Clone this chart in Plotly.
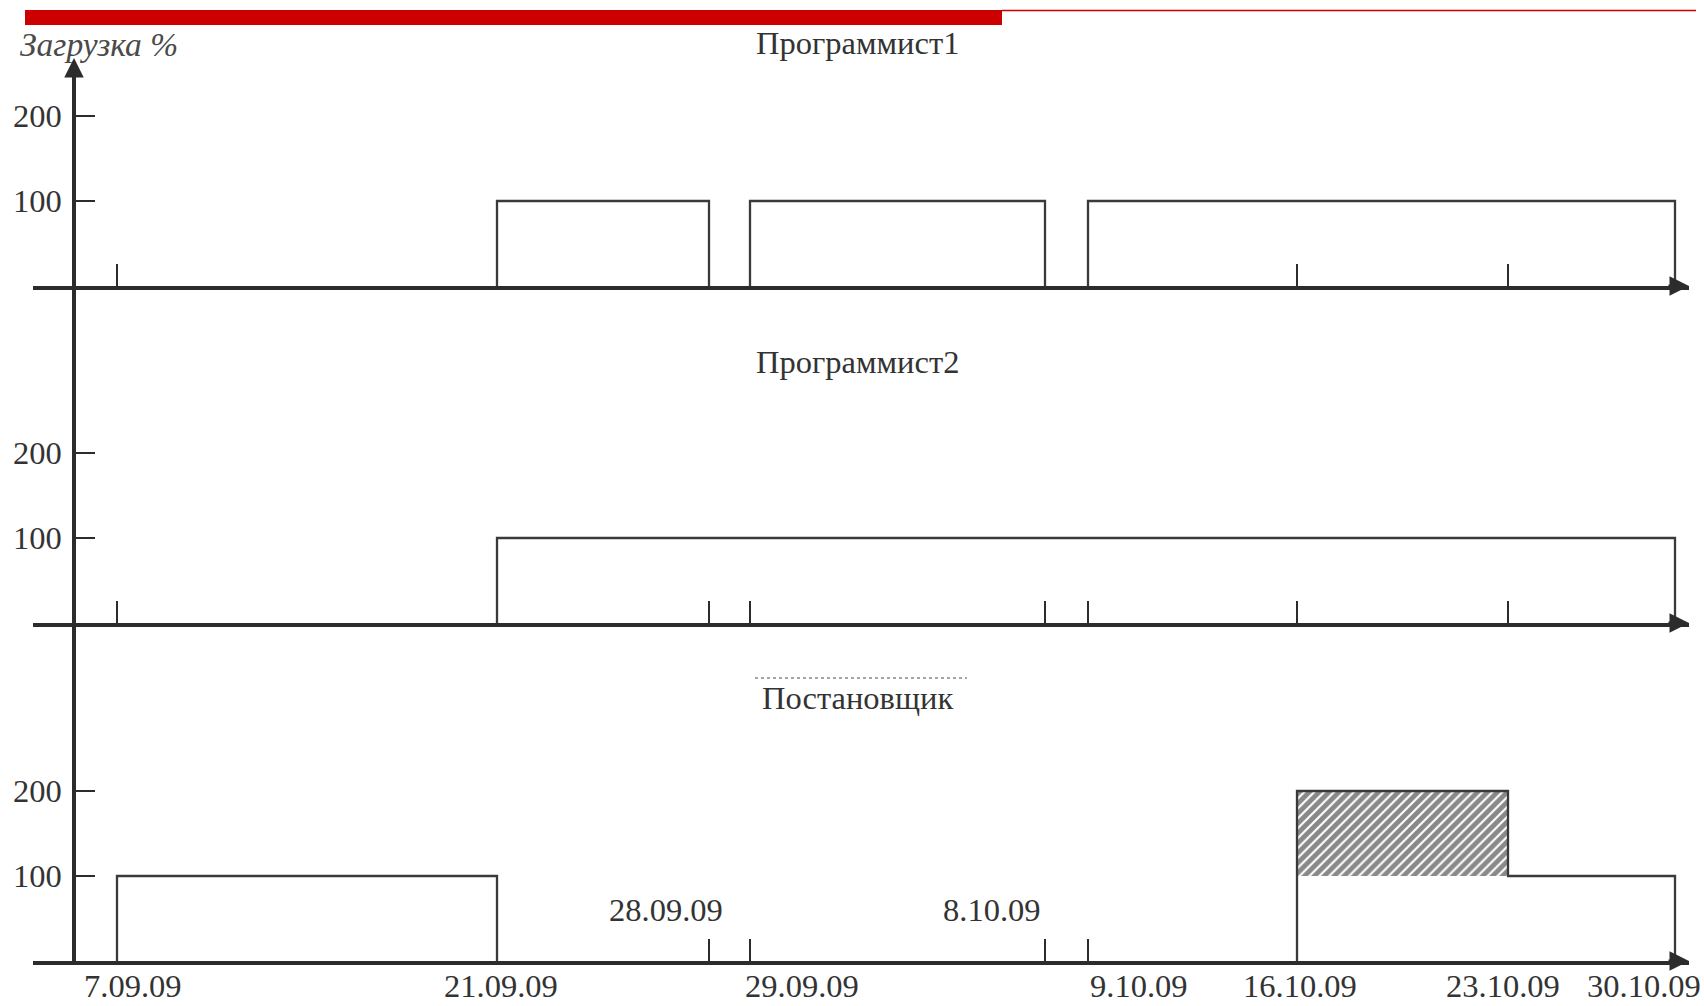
import plotly.graph_objects as go

W, H = 1704, 1006

# ---------------- data ----------------
dates = ["7.09.09", "21.09.09", "28.09.09", "29.09.09", "8.10.09",
         "9.10.09", "16.10.09", "23.10.09", "30.10.09"]
# schematic position of each date on the time line (the drawing is not to scale)
date_pos = [117, 497, 709, 750, 1045, 1088, 1297, 1508, 1675]

panel_titles = ["Программист1", "Программист2", "Постановщик"]

# load intervals per worker: (start, end, load %)
load_prog1 = [("21.09.09", "28.09.09", 100), ("29.09.09", "8.10.09", 100),
              ("9.10.09", "30.10.09", 100)]
load_prog2 = [("21.09.09", "30.10.09", 100)]
load_analyst = [("7.09.09", "21.09.09", 100), ("16.10.09", "23.10.09", 200),
                ("23.10.09", "30.10.09", 100)]
capacity = 100

# stand-alone tick marks per panel
ticks_prog1 = ["7.09.09", "16.10.09", "23.10.09"]
ticks_prog2 = ["7.09.09", "28.09.09", "29.09.09", "8.10.09", "9.10.09",
               "16.10.09", "23.10.09"]
ticks_analyst = ["28.09.09", "29.09.09", "8.10.09", "9.10.09"]

y_ticks = [100, 200]
y_title = "Загрузка %"

bottom_labels = ["7.09.09", "21.09.09", "29.09.09", "9.10.09", "16.10.09",
                 "23.10.09", "30.10.09"]
inner_labels = ["28.09.09", "8.10.09"]

# ---------------- styles / layout ----------------
bottom_shift = [16, 4, 52, 51, 3, -5, -31]
inner_shift = [-43, -53]
FONT = "Liberation Serif"
TXT = "#333333"
AX = "#2c2c2c"
LINE = "#3a3a3a"
FS = 32.5

pos = dict(zip(dates, date_pos))


def px(x):
    return x / W


def py(y):
    return 1 - y / H


def outline(segs):
    xs, ys = [], []
    prev_end = None
    for s, e, lvl in segs:
        x0, x1 = pos[s], pos[e]
        if prev_end is not None and prev_end == x0:
            xs += [x0, x1]
            ys += [lvl, lvl]
        else:
            if xs:
                xs += [prev_end, None]
                ys += [0, None]
            xs += [x0, x0, x1]
            ys += [0, lvl, lvl]
        prev_end = x1
    xs.append(prev_end)
    ys.append(0)
    return xs, ys


def overload(segs):
    xs, ys = [], []
    for s, e, lvl in segs:
        if lvl > capacity:
            x0, x1 = pos[s], pos[e]
            if xs:
                xs.append(None)
                ys.append(None)
            xs += [x0, x1, x1, x0, x0]
            ys += [capacity, capacity, lvl, lvl, capacity]
    return xs, ys


fig = go.Figure()

loads = [load_prog1, load_prog2, load_analyst]
tick_sets = [ticks_prog1, ticks_prog2, ticks_analyst]
# pixel geometry of panels: (baseline, top)
panels_px = [(286, 62), (623, 286), (961, 623)]
px_per_unit = 0.85
title_y = [43, 362, 698]

x_left, x_right = 33, 1689
yaxis_x = 74

for i, segs in enumerate(loads):
    xa = "x" if i == 0 else f"x{i+1}"
    ya = "y" if i == 0 else f"y{i+1}"
    hx, hy = overload(segs)
    if hx:
        fig.add_trace(go.Scatter(
            x=hx, y=hy, xaxis=xa, yaxis=ya, mode="lines", fill="toself",
            fillcolor="white",
            fillpattern=dict(shape="/", fgcolor="#141414", bgcolor="white",
                             size=7, solidity=0.7),
            line=dict(width=0), hoverinfo="skip", showlegend=False))
    ox, oy = outline(segs)
    fig.add_trace(go.Scatter(
        x=ox, y=oy, xaxis=xa, yaxis=ya, mode="lines",
        line=dict(color=LINE, width=2.3), showlegend=False, hoverinfo="skip",
        cliponaxis=False))

layout = dict(
    width=W, height=H, margin=dict(l=0, r=0, t=0, b=0),
    paper_bgcolor="white", plot_bgcolor="white", showlegend=False,
    font=dict(family=FONT, color=TXT, size=FS),
)

annotations = []
for i in range(3):
    base, top = panels_px[i]
    xk = "xaxis" if i == 0 else f"xaxis{i+1}"
    yk = "yaxis" if i == 0 else f"yaxis{i+1}"
    yname = "y" if i == 0 else f"y{i+1}"
    xname = "x" if i == 0 else f"x{i+1}"
    layout[xk] = dict(
        domain=[px(x_left), px(x_right)], range=[x_left, x_right],
        anchor=yname, showline=True, linecolor=AX, linewidth=3.5,
        showgrid=False, zeroline=False,
        tickvals=[pos[d] for d in tick_sets[i]], ticktext=["" for _ in tick_sets[i]],
        ticks="inside", ticklen=22, tickwidth=2, tickcolor=AX,
        fixedrange=True)
    layout[yk] = dict(
        domain=[py(base), py(top)], range=[0, (base - top) / px_per_unit],
        anchor="free", position=px(yaxis_x), showline=True, linecolor=AX,
        linewidth=3.5, showgrid=False, zeroline=False,
        tickvals=y_ticks, ticktext=[str(v) for v in y_ticks],
        ticks="inside", ticklen=19, tickwidth=2, tickcolor=AX,
        ticklabelstandoff=4,
        tickfont=dict(family=FONT, size=FS, color=TXT), fixedrange=True)
    # panel title
    annotations.append(dict(
        x=px(857), y=py(title_y[i]), xref="paper", yref="paper",
        text=panel_titles[i], showarrow=False, xanchor="center", yanchor="middle",
        font=dict(family=FONT, size=FS, color=TXT)))
    # x-axis arrow
    annotations.append(dict(
        x=x_right, y=0, xref=xname, yref=yname, ax=-22, ay=0,
        text="", showarrow=True, arrowhead=2, arrowsize=1.3, arrowwidth=3,
        arrowcolor=AX, standoff=0))

# y-axis arrow at top
annotations.append(dict(
    x=px(yaxis_x), y=py(58), xref="paper", yref="paper", ax=0, ay=24,
    text="", showarrow=True, arrowhead=2, arrowsize=1.3, arrowwidth=3,
    arrowcolor=AX, standoff=0))

# axis title
annotations.append(dict(
    x=px(18), y=py(44), xref="paper", yref="paper", text=f"<i>{y_title}</i>",
    showarrow=False, xanchor="left", yanchor="middle",
    font=dict(family=FONT, size=FS + 1, color="#4a4a4a")))

# date labels
for lab, sh in zip(bottom_labels, bottom_shift):
    annotations.append(dict(
        x=pos[lab], y=py(1005), xref="x3", yref="paper", text=lab,
        showarrow=False, xanchor="center", yanchor="bottom", xshift=sh,
        borderpad=0, font=dict(family=FONT, size=FS, color=TXT)))
for lab, sh in zip(inner_labels, inner_shift):
    annotations.append(dict(
        x=pos[lab], y=py(910), xref="x3", yref="paper", text=lab,
        showarrow=False, xanchor="center", yanchor="middle", xshift=sh,
        font=dict(family=FONT, size=FS, color=TXT)))

layout["annotations"] = annotations

layout["shapes"] = [
    dict(type="rect", xref="paper", yref="paper", x0=px(25), x1=px(1002),
         y0=py(25), y1=py(10), fillcolor="#cc0000", line=dict(width=0)),
    dict(type="line", xref="paper", yref="paper", x0=px(1002), x1=px(1696),
         y0=py(10.5), y1=py(10.5), line=dict(color="#cc0000", width=1.5)),
    dict(type="line", xref="paper", yref="paper", x0=px(755), x1=px(967),
         y0=py(678), y1=py(678), line=dict(color="#888888", width=1.4, dash="dot")),
]

fig.update_layout(**layout)
fig.write_html(
    "out.html",
    config={"displayModeBar": False},
    post_script="document.body.style.margin='0';document.body.style.overflow='hidden';",
)
